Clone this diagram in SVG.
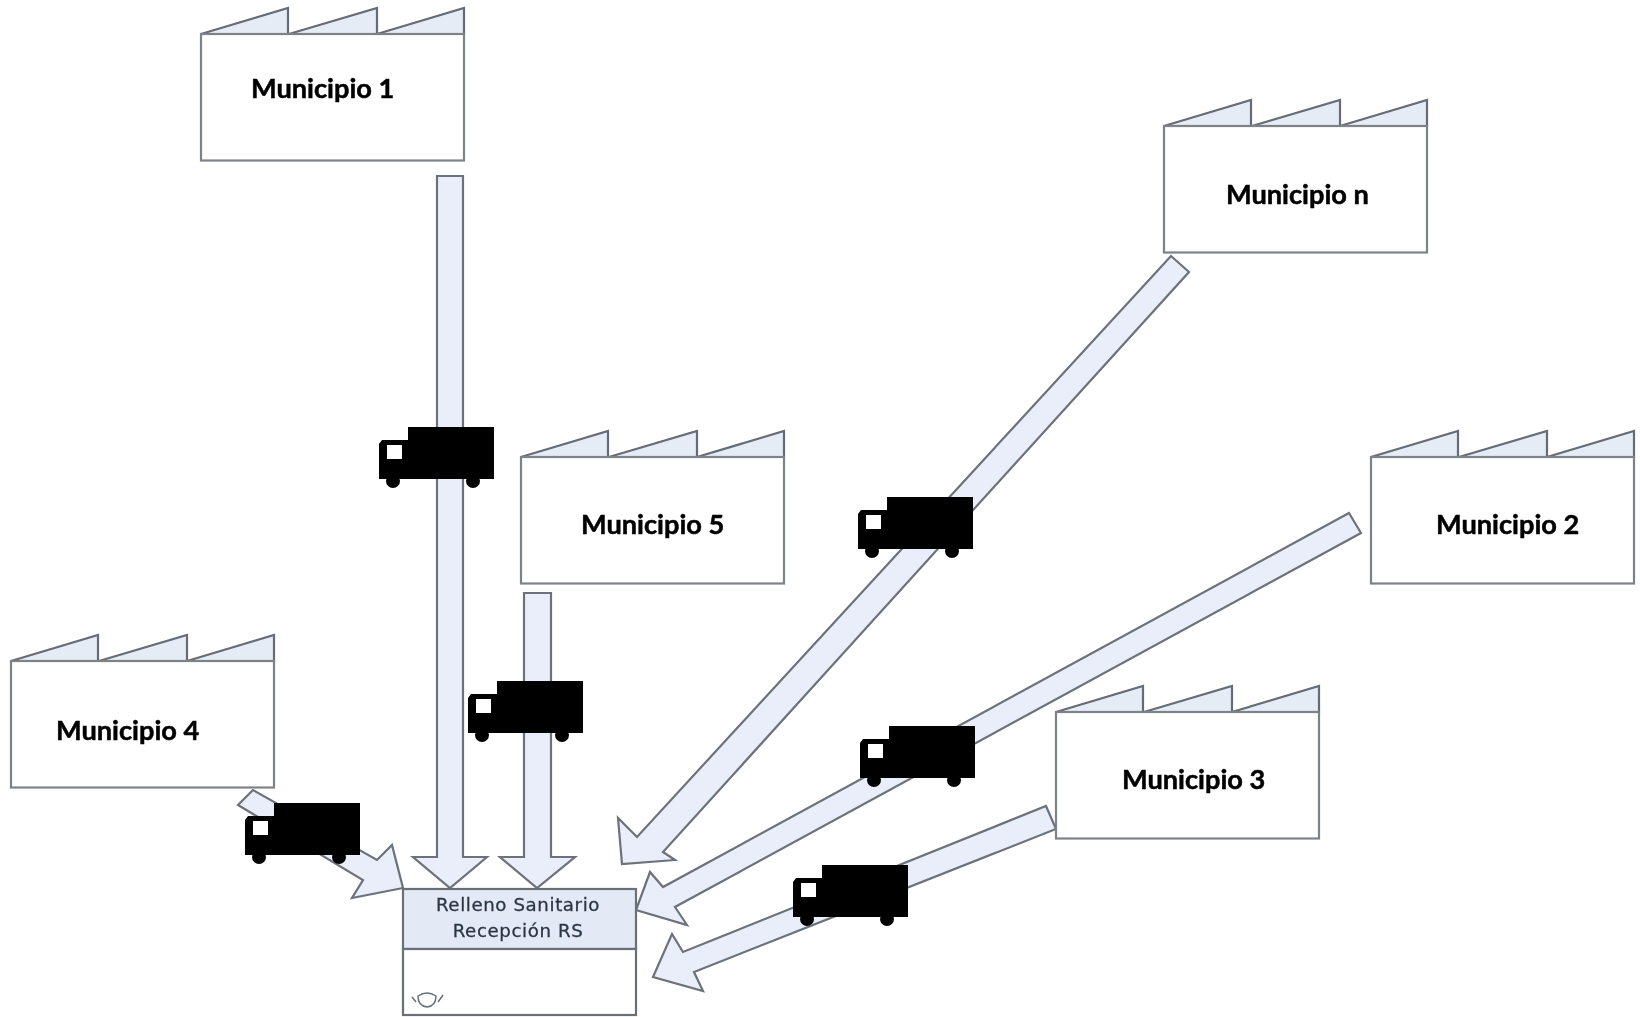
<svg xmlns="http://www.w3.org/2000/svg" width="1640" height="1017" viewBox="0 0 1640 1017">
<style>
.f{fill:#fff;stroke:#7d8289;stroke-width:2.2}
.t{fill:#e6ecf6;stroke:#666c73;stroke-width:2.2}
.a{fill:#e9eefa;stroke:#6c7279;stroke-width:2.2;stroke-linejoin:miter}
.l{font-family:"Lato","Liberation Sans",sans-serif;font-weight:700;font-size:27.2px;fill:#000;stroke:#000;stroke-width:0.5}
.r{font-family:"DejaVu Sans",sans-serif;font-size:18.2px;letter-spacing:0.6px;fill:#2b3644;stroke:#2b3644;stroke-width:0.3;text-anchor:middle}
</style>
<defs>
<filter id="b" x="-5%" y="-5%" width="110%" height="110%"><feGaussianBlur stdDeviation="0.7"/></filter>
<filter id="c" x="-5%" y="-20%" width="110%" height="140%"><feGaussianBlur stdDeviation="0.7"/></filter>
<g id="factory">
<path class="t" d="M0 26L87 0V26ZM88 26L176 0V26ZM176 26L263 0V26Z"/>
<rect class="f" x="0" y="26" width="263" height="126.5"/>
</g>
<g id="truck">
<rect x="29" y="0" width="86" height="52" fill="#000"/>
<path d="M3 13H30V52H0V17Z" fill="#000"/>
<rect x="8" y="18" width="15" height="14" fill="#fff"/>
<circle cx="14" cy="54" r="7" fill="#000"/>
<circle cx="94" cy="54" r="7" fill="#000"/>
</g>
</defs>
<rect width="1640" height="1017" fill="#fff"/>
<g filter="url(#b)">
<g id="connectors">
<path class="a" d="M437 176H463V857H487L450 888L413 857H437Z"/>
<path class="a" d="M524 593H551V857H575L537 888L500 857H524Z"/>
<path class="a" d="M1171 256L1189 272L663 852L675 860L622 864L618 818L637 837Z"/>
<path class="a" d="M1349 513L1361 533L675 907L687 925L636 910L650 872L663 887Z"/>
<path class="a" d="M1046 806L1056 829L694 972L703 991L653 977L672 934L683 952Z"/>
<path class="a" d="M253 790L238 805L363 880L352 898L403 888L392 845L377 860Z"/>
</g>
<g id="relleno">
<rect x="403" y="889" width="233" height="60" fill="#e3eaf6" stroke="#6a7078" stroke-width="2.2"/>
<rect x="403" y="949" width="233" height="66" fill="#fff" stroke="#6a7078" stroke-width="2.2"/>
<path d="M412 997L416 1002M443 995L438 1002M418 996Q427 990 436 996Q436 1006 427 1007Q418 1006 418 996Z" fill="none" stroke="#6a7078" stroke-width="1.5"/>
</g>
<g id="municipio-1-shape"><use href="#factory" x="201" y="8"/></g>
<g id="municipio-n-shape"><use href="#factory" x="1164" y="100"/></g>
<g id="municipio-5-shape"><use href="#factory" x="521" y="431"/></g>
<g id="municipio-2-shape"><use href="#factory" x="1371" y="431"/></g>
<g id="municipio-4-shape"><use href="#factory" x="11" y="635"/></g>
<g id="municipio-3-shape"><use href="#factory" x="1056" y="686"/></g>
<g id="trucks">
<use href="#truck" x="379" y="427"/>
<use href="#truck" x="468" y="681"/>
<use href="#truck" x="858" y="497"/>
<use href="#truck" x="860" y="726"/>
<use href="#truck" x="793" y="865"/>
<use href="#truck" x="245" y="803"/>
</g>
</g>
<g id="relleno-text" filter="url(#c)">
<text class="r" x="518" y="911">Relleno Sanitario</text>
<text class="r" x="518" y="937">Recepción RS</text>
</g>
<g id="labels">
<text class="l" x="251" y="98">Municipio 1</text>
<text class="l" x="1226" y="204">Municipio n</text>
<text class="l" x="581" y="534">Municipio 5</text>
<text class="l" x="1436" y="534">Municipio 2</text>
<text class="l" x="56" y="740">Municipio 4</text>
<text class="l" x="1122" y="789">Municipio 3</text>
</g>
</svg>
